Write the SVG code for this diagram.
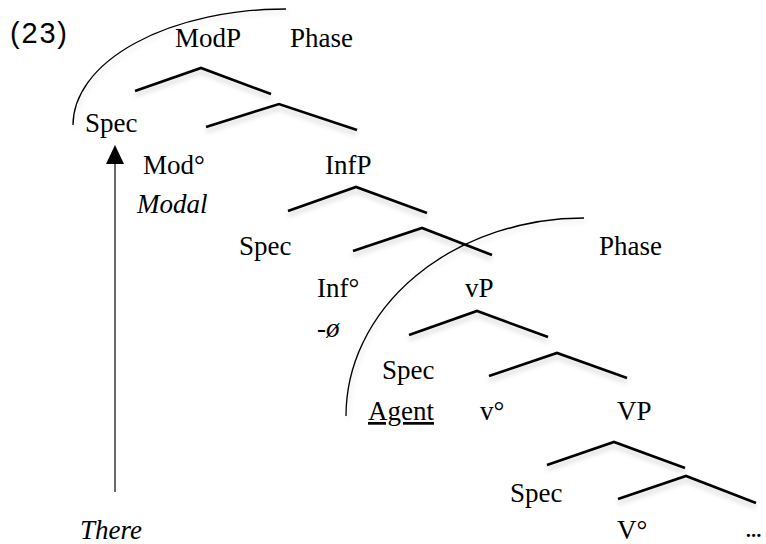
<svg xmlns="http://www.w3.org/2000/svg" width="766" height="544" viewBox="0 0 766 544">
<style>
  .t { font-family: "Liberation Serif", "DejaVu Serif", serif; font-size: 27px; fill: #000; }
  .i { font-style: italic; }
  .num { font-family: "Liberation Sans", "DejaVu Sans", sans-serif; font-size: 29px; fill: #000; }
  .br { fill: none; stroke: #000; stroke-width: 2.6; stroke-linejoin: miter; filter: url(#sh); }
  .arc { fill: none; stroke: #000; stroke-width: 1.3; filter: url(#sh2); }
  .mv { stroke: #444; stroke-width: 1.6; }
</style>
<defs>
  <filter id="sh" x="-10%" y="-30%" width="120%" height="180%">
    <feDropShadow dx="0" dy="4" stdDeviation="2.5" flood-color="#000" flood-opacity="0.18"/>
  </filter>
  <filter id="sh2" x="-10%" y="-10%" width="120%" height="130%">
    <feDropShadow dx="2" dy="3" stdDeviation="2.5" flood-color="#000" flood-opacity="0.12"/>
  </filter>
</defs>
<rect width="766" height="544" fill="#fff"/>

<g id="connectors">
  <polyline class="br" points="135,91 201,68 271,94"/>
  <polyline class="br" points="206,127 279,104 357,130"/>
  <polyline class="br" points="288,211 356,187 427,213"/>
  <polyline class="br" points="353,251 422,228 492,255"/>
  <polyline class="br" points="409,335 477,311 548,337"/>
  <polyline class="br" points="489,376 557,353 627,378"/>
  <polyline class="br" points="547,465 614,442 685,468"/>
  <polyline class="br" points="618,499 686,476 756,503"/>
  <path class="arc" d="M73,125 A213,116 0 0 1 286,9"/>
  <path class="arc" d="M346,416 A238,198 0 0 1 584,218"/>
  <line class="mv" x1="115" y1="492" x2="115" y2="160"/>
  <polygon points="115,145 106,164 124,164" fill="#000"/>
</g>

<g id="label-23"><text class="num" x="10" y="43" textLength="57" lengthAdjust="spacing">(23)</text></g>
<g id="node-ModP"><text class="t" x="175" y="47">ModP</text></g>
<g id="phase-1"><text class="t" x="290" y="47">Phase</text></g>
<g id="node-Spec1"><text class="t" x="85" y="132">Spec</text></g>
<g id="node-Mod"><text class="t" x="143" y="174">Mod°</text></g>
<g id="node-Modal"><text class="t i" x="137" y="213">Modal</text></g>
<g id="node-InfP"><text class="t" x="325" y="174">InfP</text></g>
<g id="node-Spec2"><text class="t" x="239" y="255">Spec</text></g>
<g id="phase-2"><text class="t" x="599" y="255">Phase</text></g>
<g id="node-Inf"><text class="t" x="317" y="297">Inf°</text></g>
<g id="node-zero"><text class="t i" x="317" y="337">-ø</text></g>
<g id="node-vP"><text class="t" x="465" y="297">vP</text></g>
<g id="node-Spec3"><text class="t" x="382" y="379">Spec</text></g>
<g id="node-Agent"><text class="t" x="368" y="420" text-decoration="underline">Agent</text></g>
<g id="node-v"><text class="t" x="480" y="420">v°</text></g>
<g id="node-VP"><text class="t" x="617" y="420">VP</text></g>
<g id="node-Spec4"><text class="t" x="510" y="502">Spec</text></g>
<g id="node-V"><text class="t" x="617" y="539">V°</text></g>
<g id="node-dots"><text class="t" x="745" y="537" letter-spacing="-1.5">...</text></g>
<g id="node-There"><text class="t i" x="80" y="539">There</text></g>
</svg>
